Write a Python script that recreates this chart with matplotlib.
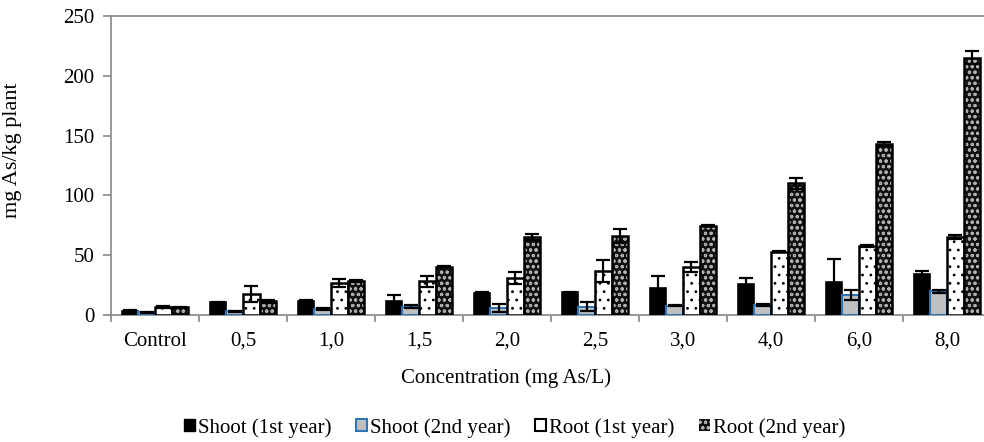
import matplotlib
matplotlib.use("Agg")
import matplotlib.pyplot as plt
import numpy as np
from matplotlib.patches import Patch

plt.rcParams['font.family'] = ['Liberation Serif', 'DejaVu Serif']
plt.rcParams['hatch.linewidth'] = 0.8

concentrations = ['Control', '0,5', '1,0', '1,5', '2,0', '2,5', '3,0', '4,0', '6,0', '8,0']

shoot_1st = [3.5, 10.5, 11.5, 12.0, 18.4, 19.0, 22.7, 26.3, 28.0, 34.3]
shoot_1st_err = [0.5, 0.5, 1.0, 4.7, 0.5, 0.5, 10.0, 4.4, 19.0, 2.7]

shoot_2nd = [2.2, 3.0, 5.0, 7.0, 6.1, 7.0, 7.8, 8.4, 16.7, 19.7]
shoot_2nd_err = [0.3, 0.3, 0.5, 1.0, 3.4, 4.0, 0.5, 0.8, 4.3, 1.0]

root_1st = [7.0, 17.5, 26.8, 28.4, 31.0, 36.9, 40.2, 53.0, 57.6, 65.0]
root_1st_err = [0.8, 6.5, 3.0, 4.6, 5.0, 9.0, 4.5, 0.3, 1.0, 1.8]

root_2nd = [6.5, 11.4, 28.4, 40.5, 65.3, 66.1, 74.6, 110.0, 142.9, 215.3]
root_2nd_err = [0.5, 1.0, 1.0, 0.5, 2.8, 6.0, 0.3, 4.5, 1.5, 5.7]

fig = plt.figure(figsize=(9.84, 4.42), dpi=100)
ax = fig.add_axes([111 / 984, 127 / 442, 880 / 984, 299 / 442])

x = np.arange(len(concentrations))
w = 0.19
err_kw = dict(ecolor='black', elinewidth=1.6, capsize=5, capthick=1.6)

# shoot, first year: solid black
ax.bar(x - 1.5 * w, shoot_1st, w, color='black', edgecolor='black', linewidth=1.2,
       yerr=shoot_1st_err, error_kw=err_kw, zorder=3)
# shoot, second year: light grey with blue outline
ax.bar(x - 0.5 * w, shoot_2nd, w, color='#c0c0c0', edgecolor='#2e75b6', linewidth=1.5,
       yerr=shoot_2nd_err, error_kw=err_kw, zorder=3)
# root, first year: white with sparse dots
ax.bar(x + 0.5 * w, root_1st, w, color='white', edgecolor='black', linewidth=0,
       hatch='..', zorder=3)
ax.bar(x + 0.5 * w, root_1st, w, color='none', edgecolor='black', linewidth=1.8,
       yerr=root_1st_err, error_kw=err_kw, zorder=4)
# root, second year: dark fill with light circle pattern
ax.bar(x + 1.5 * w, root_2nd, w, color='#111111', edgecolor='none', zorder=3)
ax.bar(x + 1.5 * w, root_2nd, w, color='none', edgecolor='#b0b0b0', linewidth=0,
       hatch='ooo', zorder=4)
ax.bar(x + 1.5 * w, root_2nd, w, color='none', edgecolor='black', linewidth=1.8,
       yerr=root_2nd_err, error_kw=err_kw, zorder=5)

ax.set_xlim(-0.5, len(concentrations) - 0.5)
ax.set_ylim(0, 250)
ax.set_yticks(range(0, 251, 50))
ax.set_xticks(x)
ax.set_xticklabels(concentrations, fontsize=15)
ax.set_xticks(np.arange(-0.5, len(concentrations), 1), minor=True)
ax.tick_params(axis='x', which='major', length=0, pad=12)
ax.tick_params(axis='x', which='minor', length=5, color='#888888', width=1.2)
ax.tick_params(axis='y', labelsize=15, length=6, color='#888888', width=1.2, pad=6)

for side in ['left', 'bottom', 'top']:
    ax.spines[side].set_color('#888888')
    ax.spines[side].set_linewidth(1.2)
ax.spines['right'].set_visible(False)

ax.set_ylabel('mg As/kg plant', fontsize=16)
ax.yaxis.set_label_coords(-0.101, 0.552)
ax.set_xlabel('Concentration (mg As/L)', fontsize=15)
ax.xaxis.set_label_coords(0.449, -0.178)

handles = [
    Patch(facecolor='black', edgecolor='black'),
    Patch(facecolor='#c0c0c0', edgecolor='#2e75b6', linewidth=1.5),
    Patch(facecolor='white', edgecolor='black', linewidth=1.5),
    Patch(facecolor='#111111', edgecolor='#b0b0b0', hatch='ooo', linewidth=0),
]
labels = ['Shoot (1st year)', 'Shoot (2nd year)', 'Root (1st year)', 'Root (2nd year)']
fig.legend(handles, labels, loc='center', bbox_to_anchor=(0.523, 0.032), ncol=4,
           frameon=False, fontsize=15, handlelength=0.5, handleheight=0.5,
           handletextpad=0.15, columnspacing=1.2)

fig.savefig('out.png', dpi=100)
